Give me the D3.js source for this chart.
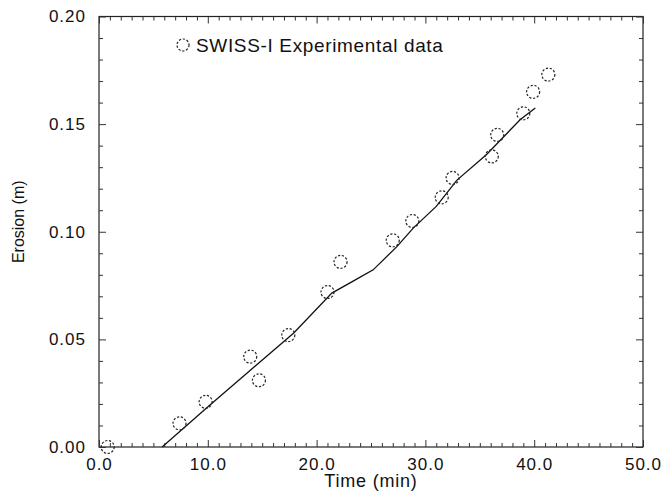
<!DOCTYPE html>
<html>
<head>
<meta charset="utf-8">
<script src="https://cdn.jsdelivr.net/npm/d3@7/dist/d3.min.js"></script>
<style>
  html, body { margin: 0; padding: 0; background: #fff; }
  svg { display: block; }
  text { font-family: "Liberation Sans", Arial, sans-serif; fill: #111; }
</style>
</head>
<body>
<svg id="chart" width="665" height="501"></svg>
<script>
// Measured erosion (SWISS-I experiment)
const expTime    = [0.8, 7.4, 9.8, 13.9, 14.7, 17.4, 21.0, 22.2, 27.0, 28.8, 31.5, 32.5, 36.1, 36.6, 39.0, 39.9, 41.3];
const expErosion = [0.000, 0.011, 0.021, 0.042, 0.031, 0.052, 0.072, 0.086, 0.096, 0.105, 0.116, 0.125, 0.135, 0.145, 0.155, 0.165, 0.173];

// Computed erosion curve
const simTime    = [5.8, 10.2, 17.9, 21.4, 23.4, 25.2, 27.4, 28.9, 31.0, 32.9, 35.6, 38.7, 40.1];
const simErosion = [0.000, 0.0195, 0.053, 0.0715, 0.0772, 0.0823, 0.0932, 0.1018, 0.1118, 0.124, 0.1358, 0.152, 0.1575];

// Axis ticks
const xTicks = [0, 10, 20, 30, 40, 50];
const yTicks = [0, 0.05, 0.10, 0.15, 0.20];
const xMinor = d3.range(0, 51, 1);
const yMinor = d3.range(0, 0.2001, 0.01);

const legendLabel = "SWISS-I Experimental data";
const xTitle = "Time (min)";
const yTitle = "Erosion (m)";

const svg = d3.select("#chart");
const plotL = 99, plotR = 643, plotT = 16.5, plotB = 447;

const x = d3.scaleLinear().domain([0, 50]).range([plotL, plotR]);
const y = d3.scaleLinear().domain([0, 0.20]).range([plotB, plotT]);

// Frame
svg.append("rect")
  .attr("x", plotL).attr("y", plotT)
  .attr("width", plotR - plotL).attr("height", plotB - plotT)
  .attr("fill", "none").attr("stroke", "#222").attr("stroke-width", 1.2);

// Inward ticks on all four sides
function ticks(gen, values, len) {
  return gen.tickValues(values).tickSize(len).tickFormat("");
}
function styleAxis(g) {
  g.select(".domain").remove();
  g.selectAll(".tick line").attr("stroke", "#333").attr("stroke-width", 1);
}
const xMinorOnly = xMinor.filter(v => v % 10 !== 0);
const yMinorOnly = yMinor.filter(v => Math.round(v * 100) % 5 !== 0);

svg.append("g").attr("transform", `translate(0,${plotB})`)
  .call(ticks(d3.axisTop(x), xMinorOnly, 4)).call(styleAxis);
svg.append("g").attr("transform", `translate(0,${plotB})`)
  .call(ticks(d3.axisTop(x), xTicks, 7)).call(styleAxis);
svg.append("g").attr("transform", `translate(0,${plotT})`)
  .call(ticks(d3.axisBottom(x), xMinorOnly, 4)).call(styleAxis);
svg.append("g").attr("transform", `translate(0,${plotT})`)
  .call(ticks(d3.axisBottom(x), xTicks, 7)).call(styleAxis);
svg.append("g").attr("transform", `translate(${plotL},0)`)
  .call(ticks(d3.axisRight(y), yMinorOnly, 4)).call(styleAxis);
svg.append("g").attr("transform", `translate(${plotL},0)`)
  .call(ticks(d3.axisRight(y), yTicks, 7)).call(styleAxis);
svg.append("g").attr("transform", `translate(${plotR},0)`)
  .call(ticks(d3.axisLeft(y), yMinorOnly, 4)).call(styleAxis);
svg.append("g").attr("transform", `translate(${plotR},0)`)
  .call(ticks(d3.axisLeft(y), yTicks, 7)).call(styleAxis);

// Tick labels
const xLab = svg.append("g").attr("transform", `translate(0,${plotB})`)
  .call(d3.axisBottom(x).tickValues(xTicks).tickSize(0).tickPadding(11).tickFormat(d3.format(".1f")));
xLab.select(".domain").remove();
xLab.selectAll("text")
  .style("font-family", '"Liberation Sans", Arial, sans-serif')
  .style("font-size", "17px").style("letter-spacing", "1px").attr("fill", "#111");

const yLab = svg.append("g").attr("transform", `translate(${plotL},0)`)
  .call(d3.axisLeft(y).tickValues(yTicks).tickSize(0).tickPadding(13).tickFormat(d3.format(".2f")));
yLab.select(".domain").remove();
yLab.selectAll("text")
  .style("font-family", '"Liberation Sans", Arial, sans-serif')
  .style("font-size", "17px").style("letter-spacing", "1px").attr("fill", "#111");

// Axis titles
svg.append("text")
  .attr("x", (plotL + plotR) / 2).attr("y", 487)
  .attr("text-anchor", "middle")
  .style("font-size", "18px").style("letter-spacing", "0.8px")
  .text(xTitle);
svg.append("text")
  .attr("transform", `translate(24,${(plotT + plotB) / 2 - 10}) rotate(-90)`)
  .attr("text-anchor", "middle")
  .style("font-size", "16px")
  .text(yTitle);

// Computed curve
const line = d3.line().x(d => x(d[0])).y(d => y(d[1]));
svg.append("path")
  .datum(d3.zip(simTime, simErosion))
  .attr("d", line)
  .attr("fill", "none").attr("stroke", "#111").attr("stroke-width", 1.3);

// Experimental points
svg.append("g").selectAll("circle")
  .data(d3.zip(expTime, expErosion))
  .join("circle")
  .attr("cx", d => x(d[0])).attr("cy", d => y(d[1]))
  .attr("r", 6.5)
  .attr("fill", "none").attr("stroke", "#222").attr("stroke-width", 1.2)
  .attr("stroke-dasharray", "2.2,1.7");

// Legend
svg.append("circle")
  .attr("cx", 183).attr("cy", 45).attr("r", 6)
  .attr("fill", "none").attr("stroke", "#222").attr("stroke-width", 1.2)
  .attr("stroke-dasharray", "2.2,1.7");
svg.append("text")
  .attr("x", 196).attr("y", 52)
  .style("font-size", "19px").style("letter-spacing", "0.65px")
  .text(legendLabel);
</script>
</body>
</html>
